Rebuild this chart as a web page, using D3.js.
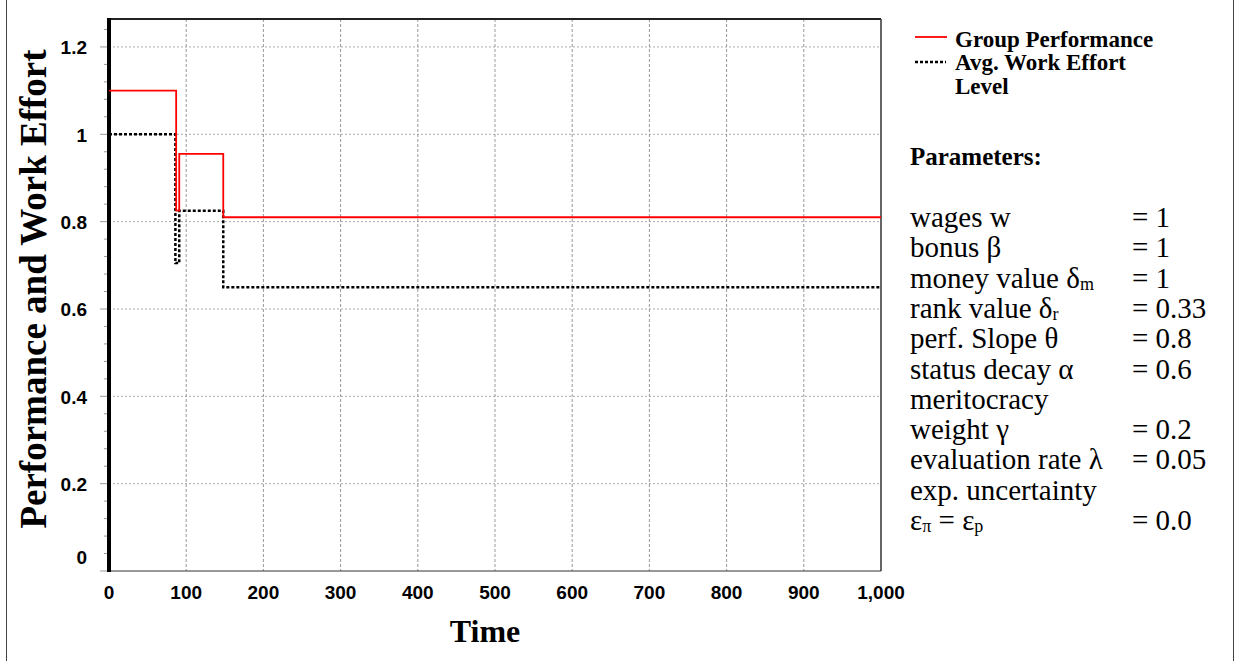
<!DOCTYPE html>
<html>
<head>
<meta charset="utf-8">
<script src="https://cdnjs.cloudflare.com/ajax/libs/d3/7.8.5/d3.min.js"></script>
<style>
  body { margin: 0; background: #fff; }
  svg { display: block; }
</style>
</head>
<body>
<div id="chart"></div>
<script>
// data
var timeTicks = [0, 100, 200, 300, 400, 500, 600, 700, 800, 900, 1000]
var yTicks = [0, 0.2, 0.4, 0.6, 0.8, 1, 1.2]
var perfTime = [0, 87, 91, 148, 1000]
var perfValue = [1.1, 0.825, 0.955, 0.81, 0.81]
var effortTime = [0, 86, 91, 148, 1000]
var effortValue = [1.0, 0.705, 0.825, 0.65, 0.65]
var legendNames = ["Group Performance", "Avg. Work Effort"]
var paramNames = [
  [["wages w"]],
  [["bonus \u03b2"]],
  [["money value \u03b4"], ["m", "sub"]],
  [["rank value \u03b4"], ["r", "sub"]],
  [["perf. Slope \u03b8"]],
  [["status decay \u03b1"]],
  [["meritocracy"]],
  [["weight \u03b3"]],
  [["evaluation rate \u03bb"]],
  [["exp. uncertainty"]],
  [["\u03b5"], ["\u03c0", "sub"], [" = \u03b5"], ["p", "sub"]]
]
var paramValues = ["= 1", "= 1", "= 1", "= 0.33", "= 0.8", "= 0.6", "", "= 0.2", "= 0.05", "", "= 0.0"]

var w = 1239
var h = 661
var pLeft = 109, pRight = 881, pTop = 19, pBottom = 571

var svg = d3.select("#chart").append("svg")
  .attr("width", w)
  .attr("height", h)

// outer border
svg.append("rect")
  .attr("x", 6.5).attr("y", -2)
  .attr("width", 1227).attr("height", h + 4)
  .attr("fill", "none").attr("stroke", "#444").attr("stroke-width", 1)

var x = d3.scaleLinear().domain([0, 1000]).range([pLeft, pRight])
var y = d3.scaleLinear().domain([0, 1.264]).range([pBottom, pTop])

// grid
svg.selectAll(".hgrid")
  .data(yTicks.filter(function(d){ return d > 0 }))
  .enter().append("line")
  .attr("x1", pLeft).attr("x2", pRight)
  .attr("y1", function(d){ return y(d) }).attr("y2", function(d){ return y(d) })
  .attr("stroke", "#aaa").attr("stroke-dasharray", "2,2")

svg.selectAll(".vgrid")
  .data(timeTicks.filter(function(d){ return d > 0 && d < 1000 }))
  .enter().append("line")
  .attr("x1", function(d){ return x(d) }).attr("x2", function(d){ return x(d) })
  .attr("y1", pTop).attr("y2", pBottom)
  .attr("stroke", "#999").attr("stroke-dasharray", "3,2")

// minor ticks on the y axis
var minor = d3.range(0, 32).map(function(i){ return i * 0.04 })
svg.selectAll(".minor")
  .data(minor)
  .enter().append("line")
  .attr("x1", function(d, i){ return i % 5 == 0 ? pLeft - 9 : pLeft - 5 })
  .attr("x2", pLeft)
  .attr("y1", function(d){ return y(d) }).attr("y2", function(d){ return y(d) })
  .attr("stroke", "#999")

// frame
svg.append("line").attr("x1", pLeft).attr("x2", pRight).attr("y1", pTop).attr("y2", pTop)
  .attr("stroke", "#222").attr("stroke-width", 2)
svg.append("line").attr("x1", pRight).attr("x2", pRight).attr("y1", pTop).attr("y2", pBottom)
  .attr("stroke", "#333").attr("stroke-width", 1.5)
svg.append("line").attr("x1", pLeft).attr("x2", pRight).attr("y1", pBottom).attr("y2", pBottom)
  .attr("stroke", "#333").attr("stroke-width", 1.2)
svg.append("line").attr("x1", pLeft).attr("x2", pLeft).attr("y1", pTop - 1).attr("y2", pBottom + 1)
  .attr("stroke", "#000").attr("stroke-width", 4)

// series
var line = d3.line()
  .x(function(d){ return x(d[0]) })
  .y(function(d){ return y(d[1]) })
  .curve(d3.curveStepAfter)

var effort = d3.zip(effortTime, effortValue)
var perf = d3.zip(perfTime, perfValue)

svg.append("path")
  .attr("d", line(effort))
  .attr("fill", "none").attr("stroke", "#000")
  .attr("stroke-width", 2.5).attr("stroke-dasharray", "3,2")

svg.append("path")
  .attr("d", line(perf))
  .attr("fill", "none").attr("stroke", "#ff0000")
  .attr("stroke-width", 1.8)

// tick labels
svg.selectAll(".xlab")
  .data(timeTicks)
  .enter().append("text")
  .attr("x", function(d){ return x(d) })
  .attr("y", 592)
  .attr("text-anchor", "middle")
  .attr("dominant-baseline", "central")
  .style("font-family", "Liberation Sans, Arial, sans-serif")
  .style("font-weight", "bold")
  .style("font-size", "19px")
  .text(function(d){ return d3.format(",")(d) })

svg.selectAll(".ylab")
  .data(yTicks)
  .enter().append("text")
  .attr("x", 87)
  .attr("y", function(d){ return d == 0 ? 557 : y(d) + 1 })
  .attr("text-anchor", "end")
  .attr("dominant-baseline", "central")
  .style("font-family", "Liberation Sans, Arial, sans-serif")
  .style("font-weight", "bold")
  .style("font-size", "19px")
  .text(function(d){ return d3.format("~g")(d) })

// axis titles
svg.append("text")
  .attr("transform", "translate(33,289) rotate(-90)")
  .attr("text-anchor", "middle")
  .attr("dominant-baseline", "central")
  .style("font-family", "Liberation Serif, Times New Roman, serif")
  .style("font-weight", "bold")
  .style("font-size", "37px")
  .text("Performance and Work Effort")

svg.append("text")
  .attr("x", 485).attr("y", 631)
  .attr("text-anchor", "middle")
  .attr("dominant-baseline", "central")
  .style("font-family", "Liberation Serif, Times New Roman, serif")
  .style("font-weight", "bold")
  .style("font-size", "32px")
  .text("Time")

// legend
var lg = svg.append("g")
lg.append("line").attr("x1", 915).attr("x2", 947).attr("y1", 37).attr("y2", 37)
  .attr("stroke", "#ff0000").attr("stroke-width", 1.8)
lg.append("line").attr("x1", 915).attr("x2", 946).attr("y1", 62).attr("y2", 62)
  .attr("stroke", "#000").attr("stroke-width", 2.5).attr("stroke-dasharray", "3,2")
lg.selectAll("text")
  .data([legendNames[0], legendNames[1], "Level"])
  .enter().append("text")
  .attr("x", 955)
  .attr("y", function(d, i){ return 39 + i * 23.5 })
  .attr("dominant-baseline", "central")
  .style("font-family", "Liberation Serif, Times New Roman, serif")
  .style("font-weight", "bold")
  .style("font-size", "23px")
  .text(function(d){ return d })

// parameters
svg.append("text")
  .attr("x", 910).attr("y", 156)
  .attr("dominant-baseline", "central")
  .style("font-family", "Liberation Serif, Times New Roman, serif")
  .style("font-weight", "bold")
  .style("font-size", "25px")
  .text("Parameters:")

var rows = svg.selectAll(".prow")
  .data(paramNames)
  .enter().append("text")
  .attr("x", 910)
  .attr("y", function(d, i){ return 217 + i * 30.3 })
  .attr("dominant-baseline", "central")
  .style("font-family", "Liberation Serif, Times New Roman, serif")
  .style("font-size", "29px")

rows.selectAll("tspan")
  .data(function(d){ return d })
  .enter().append("tspan")
  .attr("baseline-shift", function(d){ return d[1] == "sub" ? "-6" : null })
  .style("font-size", function(d){ return d[1] == "sub" ? "18px" : null })
  .text(function(d){ return d[0] })

svg.selectAll(".pval")
  .data(paramValues)
  .enter().append("text")
  .attr("x", 1132)
  .attr("y", function(d, i){ return 217 + i * 30.3 })
  .attr("dominant-baseline", "central")
  .style("font-family", "Liberation Serif, Times New Roman, serif")
  .style("font-size", "29px")
  .text(function(d){ return d })
</script>
</body>
</html>
